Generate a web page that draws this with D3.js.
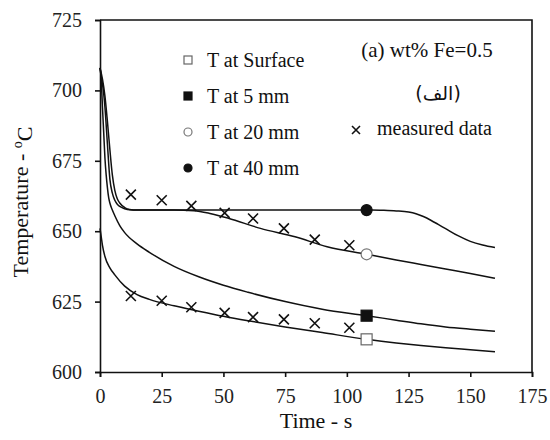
<!DOCTYPE html>
<html>
<head>
<meta charset="utf-8">
<script src="https://cdn.jsdelivr.net/npm/d3@7"></script>
<style>
  body { margin: 0; background: #fff; }
</style>
</head>
<body>
<div id="chart"></div>
<script>
// simulated cooling curves (time in s, temperature in C)
let tSurface = [0, 0.5, 1, 2, 4, 6, 10, 15, 20, 30, 40, 50, 60, 75, 90, 108, 120, 130, 140, 150, 160];
let TSurface = [651, 648, 645, 641, 637, 634.5, 630.5, 627.5, 625.8, 623.5, 621.6, 619.8, 618.2, 616, 614, 611.6, 610.3, 609.4, 608.6, 607.9, 607.2];

let t5mm = [0, 0.4, 0.7, 1, 1.5, 2, 2.5, 3, 3.5, 4, 5, 6, 8, 10, 15, 20, 30, 40, 50, 60, 75, 90, 108, 120, 130, 140, 150, 160];
let T5mm = [708, 705, 700, 694, 685, 676, 670, 665.5, 662, 660, 657.5, 655.5, 652, 649.5, 645.5, 642.5, 637.5, 633.8, 630.8, 628.3, 625, 622.3, 620, 618.4, 617.1, 616, 615.2, 614.5];

let t20mm = [0, 0.5, 1.35, 2, 3, 4, 5, 6, 7, 8, 10, 12, 15, 20, 30, 38, 45, 52, 65, 79, 92, 108, 120, 130, 140, 150, 160];
let T20mm = [708, 705, 700, 694, 681, 668.5, 663.5, 661, 659.6, 658.8, 658, 657.6, 657.5, 657.5, 657.5, 657.3, 656.2, 654.6, 651, 648, 644.5, 641.8, 639.8, 638.2, 636.6, 635, 633.3];

let t40mm = [0, 1, 2, 3, 4, 5, 6, 7, 8, 10, 12, 15, 20, 40, 60, 80, 100, 110, 115, 120, 125, 128, 131, 134, 137, 140, 145, 150, 155, 160];
let T40mm = [708, 704, 698, 689, 679, 670, 664.5, 661.5, 660, 658.4, 657.7, 657.5, 657.5, 657.5, 657.5, 657.5, 657.5, 657.5, 657.4, 657.2, 656.8, 656.2, 655.2, 653.9, 652.4, 650.9, 648.4, 646.4, 645.1, 644.2];

// measured thermocouple data
let measTime = [12.5, 25, 37, 50.5, 62, 74.5, 87, 101];
let measUpper = [663, 661, 659, 656.5, 654.5, 651, 647, 645];
let measLower = [627, 625.3, 623, 621, 619.5, 618.7, 617.3, 615.7];

// one marker on each simulated curve
let markerTime = [108, 108, 108, 108];
let markerTemp = [611.6, 620, 641.8, 657.5];
let seriesNames = ["T at Surface", "T at 5 mm", "T at 20 mm", "T at 40 mm"];

let xTicks = [0, 25, 50, 75, 100, 125, 150, 175];
let yTicks = [600, 625, 650, 675, 700, 725];

let serif = "'Liberation Serif', 'DejaVu Serif', Tinos, 'Times New Roman', serif";

function chart(where) {
    this.width = 550;
    this.height = 440;
    this.margin = { top: 20, right: 18, bottom: 68, left: 100 };

    this.svg = d3.select(where).append("svg")
        .attr("width", this.width)
        .attr("height", this.height)
        .style("font-family", serif);

    this.x = d3.scaleLinear()
        .domain([0, 175])
        .range([this.margin.left, this.width - this.margin.right]);

    this.y = d3.scaleLinear()
        .domain([600, 725])
        .range([this.height - this.margin.bottom, this.margin.top]);

    this.draw();
}

chart.prototype.marker = function(g, kind, cx, cy, size) {
    if (kind === 0 || kind === 1) {
        g.append("rect")
            .attr("x", cx - size / 2)
            .attr("y", cy - size / 2)
            .attr("width", size)
            .attr("height", size)
            .attr("fill", kind === 0 ? "#fff" : "#111")
            .attr("stroke", kind === 0 ? "#666" : "#111")
            .attr("stroke-width", 1.2);
    } else {
        g.append("circle")
            .attr("cx", cx)
            .attr("cy", cy)
            .attr("r", size / 2)
            .attr("fill", kind === 2 ? "#fff" : "#111")
            .attr("stroke", kind === 2 ? "#777" : "#111")
            .attr("stroke-width", 1.2);
    }
};

chart.prototype.cross = function(g, cx, cy, s) {
    g.append("path")
        .attr("d", "M" + (cx - s) + "," + (cy - s) + "L" + (cx + s) + "," + (cy + s) +
                   "M" + (cx - s) + "," + (cy + s) + "L" + (cx + s) + "," + (cy - s))
        .attr("stroke", "#111")
        .attr("stroke-width", 1.6)
        .attr("fill", "none");
};

chart.prototype.label = function(x, y, size, txt) {
    return this.svg.append("text")
        .attr("x", x)
        .attr("y", y)
        .style("font-family", serif)
        .style("font-size", size + "px")
        .style("fill", "#111")
        .text(txt);
};

chart.prototype.draw = function() {
    let x = this.x, y = this.y, svg = this.svg;
    let left = this.margin.left, right = this.width - this.margin.right;
    let top = this.margin.top, bottom = this.height - this.margin.bottom;

    // axes
    let xAxis = svg.append("g")
        .attr("transform", "translate(0," + bottom + ")")
        .call(d3.axisBottom(x).tickValues(xTicks).tickSize(5).tickPadding(12));
    let yAxis = svg.append("g")
        .attr("transform", "translate(" + left + ",0)")
        .call(d3.axisLeft(y).tickValues(yTicks).tickSize(5).tickPadding(13));

    [xAxis, yAxis].forEach(function(a) {
        a.attr("font-family", null).attr("font-size", null);
        a.select(".domain").attr("stroke", "#111").attr("stroke-width", 1.6);
        a.selectAll(".tick line").attr("stroke", "#111").attr("stroke-width", 1.6);
        a.selectAll(".tick text")
            .style("font-family", serif)
            .style("font-size", "20px")
            .attr("fill", "#222");
    });

    // box on top and right
    svg.append("path")
        .attr("d", "M" + left + "," + top + "H" + right + "V" + bottom)
        .attr("fill", "none")
        .attr("stroke", "#111")
        .attr("stroke-width", 1.6);

    // curves
    let line = d3.line()
        .x(function(d) { return x(d[0]); })
        .y(function(d) { return y(d[1]); })
        .curve(d3.curveMonotoneX);

    let curves = [[tSurface, TSurface], [t5mm, T5mm], [t20mm, T20mm], [t40mm, T40mm]];
    curves.forEach(function(c) {
        svg.append("path")
            .datum(d3.zip(c[0], c[1]))
            .attr("d", line)
            .attr("fill", "none")
            .attr("stroke", "#111")
            .attr("stroke-width", 1.5);
    });

    // measured data
    for (let i = 0; i < measTime.length; i++) {
        this.cross(svg, x(measTime[i]), y(measUpper[i]), 5);
        this.cross(svg, x(measTime[i]), y(measLower[i]), 5);
    }

    // curve markers
    for (let i = 0; i < markerTime.length; i++) {
        this.marker(svg, i, x(markerTime[i]), y(markerTemp[i]), 11);
    }

    // legend
    for (let i = 0; i < seriesNames.length; i++) {
        let ly = 60 + i * 36;
        this.marker(svg, i, 188, ly, 8);
        this.label(207, ly + 7, 20, seriesNames[i]);
    }

    this.cross(svg, 356, 130, 4);
    this.label(377, 135, 20, "measured data");

    this.label(427, 57, 21, "(a) wt% Fe=0.5")
        .attr("text-anchor", "middle");

    this.label(438, 100, 19, "(الف)")
        .attr("text-anchor", "middle")
        .style("font-family", "'DejaVu Sans', sans-serif");

    // axis titles
    this.label((left + right) / 2, 428, 22, "Time - s")
        .attr("text-anchor", "middle");

    let yt = svg.append("text")
        .attr("transform", "translate(28," + ((top + bottom) / 2 + 6) + ") rotate(-90)")
        .attr("text-anchor", "middle")
        .style("font-family", serif)
        .style("font-size", "22px")
        .style("fill", "#111");
    yt.append("tspan").text("Temperature - ");
    yt.append("tspan").attr("dy", "-0.45em").style("font-size", "14px").text("o");
    yt.append("tspan").attr("dy", "0.45em").text("C");
};

new chart("#chart");
</script>
</body>
</html>
